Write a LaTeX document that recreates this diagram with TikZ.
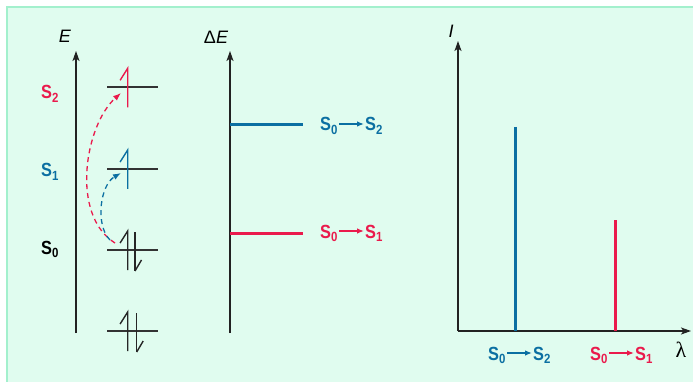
\documentclass[tikz,border=0pt]{standalone}
\usepackage{fontspec}
\setmainfont{Liberation Sans}
\newfontfamily\statefont[FakeStretch=0.86]{Liberation Sans}
\newfontfamily\lambdafont{Liberation Serif}
\usetikzlibrary{arrows.meta, positioning}

\definecolor{panelbg}{HTML}{E0FCEF}
\definecolor{panelrule}{HTML}{A3F0CD}
\definecolor{transblue}{HTML}{0B6FA2}
\definecolor{transred}{HTML}{EA1A4C}
\definecolor{axisgray}{HTML}{222222}

% electron with spin up / spin down on a level at height #2
\newcommand{\spinup}[3]{\draw[spin,#3] ({#1-7.6},{#2-7}) -- (#1,{#2-19}) -- (#1,{#2+20});}
\newcommand{\spindown}[3]{\draw[spin,#3] (#1,{#2-18}) -- (#1,{#2+21});
    \draw[spin] (#1,{#2+21}) -- ({#1+6.5},{#2+10});}

\begin{document}
\begin{tikzpicture}[
    x=1pt, y=-1pt,
    axis/.style={-{Stealth[length=10pt, width=7pt, inset=2.5pt]}, line width=1.4pt, axisgray},
    level/.style={line width=1.3pt, black!80},
    spin/.style={line width=1.4pt, black!85},
    bar/.style={line width=3pt},
    excite/.style={dashed, dash pattern=on 5pt off 4pt, line width=1.3pt, -{Latex[length=8pt, width=6pt]}},
    axislbl/.style={font=\fontsize{18}{18}\selectfont\itshape, inner sep=0pt},
    statelbl/.style={font=\statefont\bfseries\fontsize{19}{19}\selectfont, inner sep=0pt, anchor=base west},
    translbl/.style={statelbl, inner sep=1pt},
    transarrow/.style={line width=1.3pt, -{Latex[length=7pt, width=5.5pt]}}
]
    \useasboundingbox (0,0) rectangle (693,382);
    \draw[fill=panelbg, draw=panelrule, line width=2pt] (7,7) rectangle (695,384);

    % energy levels and electron configurations
    \coordinate (ebot) at (76,333);
    \coordinate (etop) at (76,51);
    \draw[axis] (ebot) -- (etop);
    \node[axislbl] (elbl) at (65,36) {E};

    \node[statelbl, text=transred] (s2lbl) at (41,99) {S\textsubscript{2}};
    \node[statelbl, text=transblue] (s1lbl) at (41,177) {S\textsubscript{1}};
    \node[statelbl, text=black] (s0lbl) at (41,254) {S\textsubscript{0}};

    \foreach \lev in {87,169,250,331}
        \draw[level] (107,\lev) -- (158,\lev);

    \spinup{127.7}{87.3}{transred}
    \spinup{127.7}{169}{transblue}
    \spinup{127.7}{250}{}
    \spindown{135}{250}{line width=2.4pt}
    \spinup{127.7}{331}{}
    \spindown{136.7}{331}{}

    \coordinate (s0redstart) at (115,243);
    \coordinate (s0bluestart) at (110,240);
    \coordinate (s2end) at (121,93);
    \coordinate (s1end) at (121,173);
    \draw[excite, transred] (s0redstart) .. controls (70,215) and (85,125) .. (s2end);
    \draw[excite, transblue] (s0bluestart) .. controls (95,225) and (100,185) .. (s1end);

    % transition energies
    \coordinate (dbot) at (230,333);
    \coordinate (dtop) at (230,51);
    \draw[axis] (dbot) -- (dtop);
    \node[axislbl] (dlbl) at (216,37) {\upshape Δ\itshape E};

    \coordinate (deblue) at (230,125);
    \coordinate (dered) at (230,233);
    \draw[bar, transblue] (deblue) -- ++(73,0);
    \draw[bar, transred] (dered) -- ++(73,0);

    \node[translbl, text=transblue] (mblueA) at (319,131) {S\textsubscript{0}};
    \node[translbl, text=transblue] (mblueB) at (364,131) {S\textsubscript{2}};
    \draw[transarrow, transblue] ([yshift=7pt]mblueA.base east) -- ([yshift=7pt]mblueB.base west);
    \node[translbl, text=transred] (mredA) at (319,238) {S\textsubscript{0}};
    \node[translbl, text=transred] (mredB) at (364,238) {S\textsubscript{1}};
    \draw[transarrow, transred] ([yshift=7pt]mredA.base east) -- ([yshift=7pt]mredB.base west);

    % absorption spectrum
    \coordinate (origin) at (458,331);
    \coordinate (itop) at (458,41);
    \coordinate (lend) at (691,331);
    \draw[axis] (origin) -- (itop);
    \draw[axis] (origin) -- (lend);
    \node[axislbl] (ilbl) at (451,31) {I};
    \node[font=\lambdafont\fontsize{22}{22}\selectfont, inner sep=0pt] (llbl) at (681,350) {λ};

    \coordinate (bluepeak) at (515.5,127);
    \coordinate (redpeak) at (615,220);
    \draw[bar, transblue] (bluepeak) -- (bluepeak |- origin);
    \draw[bar, transred] (redpeak) -- (redpeak |- origin);

    \node[translbl, text=transblue] (sblueA) at (487,360) {S\textsubscript{0}};
    \node[translbl, text=transblue] (sblueB) at (532,360) {S\textsubscript{2}};
    \draw[transarrow, transblue] ([yshift=7pt]sblueA.base east) -- ([yshift=7pt]sblueB.base west);
    \node[translbl, text=transred] (sredA) at (589,360) {S\textsubscript{0}};
    \node[translbl, text=transred] (sredB) at (634,360) {S\textsubscript{1}};
    \draw[transarrow, transred] ([yshift=7pt]sredA.base east) -- ([yshift=7pt]sredB.base west);
\end{tikzpicture}
\end{document}
